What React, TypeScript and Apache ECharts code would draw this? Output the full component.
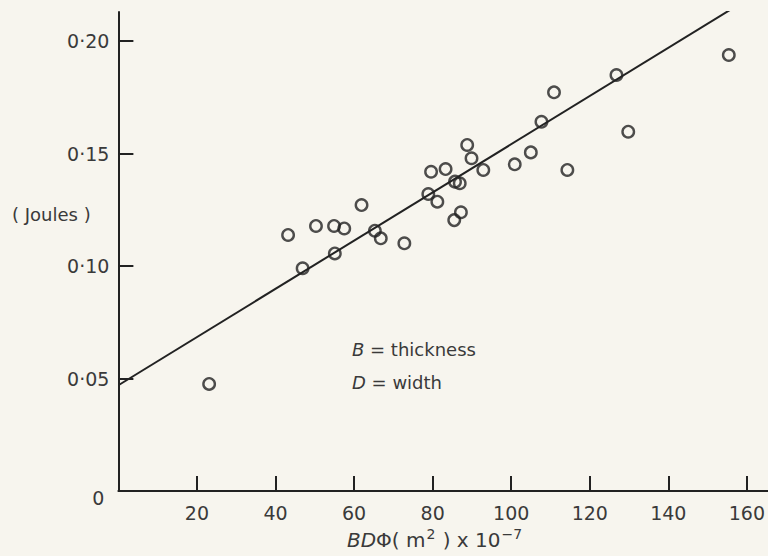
import React, { useEffect, useRef } from "react";
import * as echarts from "echarts";

// Measured points: x = BDΦ (m²) x 10^-7, y = energy (Joules)
const xValues = [
  23.1, 43.2, 46.9, 50.3, 54.9, 55.1, 57.5, 61.9, 65.3, 66.8,
  72.8, 78.9, 79.6, 81.2, 83.3, 85.5, 85.7, 86.9, 87.2, 88.8,
  89.9, 92.9, 100.9, 105.0, 107.7, 110.9, 114.3, 126.8, 129.8, 155.4,
];
const yValues = [
  0.0476, 0.1138, 0.099, 0.1178, 0.1178, 0.1056, 0.1167, 0.1271, 0.1157, 0.1123,
  0.1101, 0.132, 0.1419, 0.1286, 0.1431, 0.1204, 0.1375, 0.1368, 0.1239, 0.1538,
  0.1479, 0.1427, 0.1452, 0.1505, 0.1641, 0.1772, 0.1427, 0.1849, 0.1597, 0.1938,
];
// Fitted straight line end points
const fitX = [0, 155.7];
const fitY = [0.047, 0.2138];

const xTicks = [20, 40, 60, 80, 100, 120, 140, 160];
const yTicks = [0, 0.05, 0.1, 0.15, 0.2];

const INK = "#222222";
const TEXT = "#3a3a3a";
const FONT = "DejaVu Sans";

export default function App() {
  const ref = useRef<HTMLDivElement>(null);
  useEffect(() => {
    if (!ref.current) return;
    const chart = echarts.init(ref.current, undefined, { renderer: "svg" });
    const points = xValues.map((x, i) => [x, yValues[i]]);
    const fit = fitX.map((x, i) => [x, fitY[i]]);
    chart.setOption({
      animation: false,
      backgroundColor: "#f7f5ee",
      grid: { left: 118.4, right: 0, top: 12, bottom: 65, containLabel: false },
      xAxis: {
        type: "value",
        min: 0,
        max: 165.3,
        interval: 20,
        splitLine: { show: false },
        axisLine: { onZero: false, lineStyle: { color: INK, width: 2 } },
        axisTick: { inside: true, length: 15, lineStyle: { color: INK, width: 2 } },
        axisLabel: {
          margin: 12,
          color: TEXT,
          fontFamily: FONT,
          fontSize: 19,
          showMinLabel: false,
          showMaxLabel: false,
          formatter: (v: number) => (xTicks.includes(v) ? String(v) : ""),
        },
        name: "{i|BD}{n|Φ( m}{s|2}{n| ) x 10}{s|−7}",
        nameLocation: "middle",
        nameGap: 30,
        nameTextStyle: {
          color: TEXT,
          fontFamily: FONT,
          padding: [0, 16, 0, 0],
          rich: {
            i: { fontSize: 20, fontStyle: "italic", color: TEXT, fontFamily: FONT },
            n: { fontSize: 20, color: TEXT, fontFamily: FONT },
            s: { fontSize: 14, color: TEXT, fontFamily: FONT, verticalAlign: "top", padding: [0, 1, 12, 1] },
          },
        },
      },
      yAxis: {
        type: "value",
        min: 0,
        max: 0.2129,
        interval: 0.05,
        splitLine: { show: false },
        axisLine: { lineStyle: { color: INK, width: 2 } },
        axisTick: { inside: true, length: 15, lineStyle: { color: INK, width: 2 } },
        axisLabel: {
          margin: 9,
          color: TEXT,
          fontFamily: FONT,
          fontSize: 19,
          showMaxLabel: false,
          formatter: (v: number) => {
            const t = yTicks.find((y) => Math.abs(y - v) < 1e-9);
            if (t === undefined) return "";
            if (t === 0) return "{z|0}";
            return t.toFixed(2).replace(".", "·");
          },
          rich: {
            z: { fontSize: 19, color: TEXT, fontFamily: FONT, padding: [14, 5, 0, 0] },
          },
        },
      },
      graphic: [
        {
          type: "text",
          left: 12,
          top: 205,
          style: { text: "( Joules )", fill: TEXT, font: `18px ${FONT}` },
        },
        {
          type: "text",
          left: 352,
          top: 340,
          style: {
            text: "{i|B} = thickness",
            fill: TEXT,
            font: `18px ${FONT}`,
            rich: { i: { fontStyle: "italic", fontSize: 18, fontFamily: FONT, fill: TEXT } },
          },
        },
        {
          type: "text",
          left: 352,
          top: 373,
          style: {
            text: "{i|D} = width",
            fill: TEXT,
            font: `18px ${FONT}`,
            rich: { i: { fontStyle: "italic", fontSize: 18, fontFamily: FONT, fill: TEXT } },
          },
        },
      ],
      series: [
        {
          type: "line",
          data: fit,
          symbol: "none",
          lineStyle: { color: INK, width: 2 },
          silent: true,
        },
        {
          type: "scatter",
          data: points,
          symbol: "circle",
          symbolSize: 11.5,
          itemStyle: { color: "rgba(0,0,0,0)", borderColor: INK, borderWidth: 2.4 },
        },
      ],
    });
    return () => chart.dispose();
  }, []);
  return (
    <div
      ref={ref}
      style={{ position: "absolute", left: 0, top: 0, width: 768, height: 556 }}
    />
  );
}
